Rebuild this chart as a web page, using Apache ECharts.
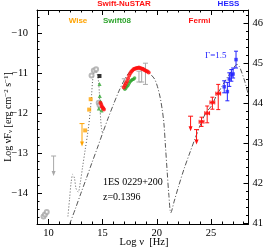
<!DOCTYPE html>
<html><head><meta charset="utf-8">
<script src="https://cdn.jsdelivr.net/npm/echarts@6/dist/echarts.min.js"></script>
<style>html,body{margin:0;padding:0;background:#fff}#c{width:266px;height:249px}</style>
</head><body><div id="c"></div>
<script>
// ---- tick values ----
const xMajor = [10, 15, 20, 25];
const yMajor = [-14, -13, -12, -11, -10];
const lumMajor = [41, 42, 43, 44, 45, 46];
const LUM_OFFSET = 55.74;

// ---- data ----
const radioX = [9.55, 9.68, 9.85];
const radioY = [-14.58, -14.53, -14.47];
const radioULX = [10.48], radioULTop = [-13.07], radioULTip = [-13.57];

const wiseX = [13.9, 13.76, 13.39];
const wiseY = [-11.65, -11.91, -12.43];
const wiseULX = [13.1], wiseULTop = [-12.26], wiseULTip = [-12.83];

const optGreyX = [13.98, 14.19, 14.4, 14.64, 14.72];
const optGreyY = [-11.06, -10.93, -10.9, -11.74, -11.8];
const blackX = [14.71], blackY = [-11.07];

const greenTriX = [14.72, 14.74, 14.65, 14.8, 14.9];
const greenTriY = [-11.27, -11.57, -11.88, -11.7, -11.93];

const redUvotX = [14.8, 14.87, 14.93, 15.0, 15.07, 15.12];
const redUvotY = [-11.74, -11.78, -11.83, -11.86, -11.88, -11.91];

const xrtRedX = [16.95,17.05,17.15,17.25,17.35,17.45,17.55,17.65,17.75,17.85,17.95,18.05,18.15,18.25,18.35,18.45,18.55,18.65,18.75,18.85,18.95,19.05,19.15,19.25];
const xrtRedY = [-11.36,-11.3,-11.25,-11.2,-11.13,-11.06,-11.0,-10.96,-10.93,-10.9,-10.89,-10.88,-10.87,-10.87,-10.86,-10.87,-10.88,-10.89,-10.9,-10.92,-10.93,-10.95,-10.96,-10.98];

const xrtGreenX = [17.05,17.15,17.25,17.35,17.45,17.55,17.65,17.75,17.85,17.95];
const xrtGreenY = [-11.4,-11.37,-11.33,-11.3,-11.25,-11.21,-11.18,-11.16,-11.15,-11.12];

const greyBarX = [17.0, 18.35, 18.6, 18.95];
const greyBarLo = [-11.34, -11.22, -11.22, -11.28];
const greyBarHi = [-11.14, -10.95, -10.86, -10.75];

const fermiX = [24.12, 24.64, 25.12, 25.66];
const fermiY = [-12.215, -12.0, -11.73, -11.51];
const fermiLo = [-12.33, -12.24, -11.9, -11.91];
const fermiHi = [-12.1, -11.82, -11.6, -11.28];
const fermiXLo = [23.9, 24.42, 24.9, 25.44];
const fermiXHi = [24.34, 24.86, 25.34, 25.88];
const fermiULX = [23.11, 23.66], fermiULTop = [-12.075, -12.41], fermiULTip = [-12.45, -12.78];

const hessX = [26.21, 26.5, 26.68, 26.87, 27.03, 27.3];
const hessY = [-11.34, -11.46, -11.145, -11.045, -11.02, -10.66];
const hessLo = [-11.49, -11.69, -11.33, -11.2, -11.12, -10.87];
const hessHi = [-11.19, -11.23, -10.99, -10.91, -10.87, -10.45];

const sscX = [11.95,12.5,13.0,13.5,14.0,14.5,15.0,15.5,16.0,16.5,17.0,17.4,17.8,18.1,18.35,18.6,18.9,19.2,19.5,19.8,20.05,20.3,20.5,20.65,20.8,20.95,21.1,21.29,21.6,22.0,22.5,23.0,23.5,24.0,24.5,25.0,25.5,26.0,26.5,26.9,27.2,27.4,27.6,27.85,28.1,28.45];
const sscY = [-14.78,-14.38,-14.0,-13.63,-13.25,-12.88,-12.5,-12.13,-11.78,-11.45,-11.17,-11.0,-10.9,-10.86,-10.85,-10.86,-10.9,-10.97,-11.05,-11.15,-11.33,-11.6,-11.92,-12.25,-12.85,-13.45,-14.02,-14.49,-14.2,-13.83,-13.4,-13.02,-12.65,-12.3,-12.0,-11.83,-11.56,-11.33,-11.1,-10.95,-10.82,-10.78,-10.83,-11.0,-11.2,-11.55];

const totX = [11.8,11.95,12.1,12.25,12.4,12.55,12.75,12.95,13.15,13.4,13.65,13.85,13.98,14.08,14.2,14.35,14.5,14.62,14.7,14.76,14.82,14.9,15.0];
const totY = [-14.58,-14.15,-13.72,-13.53,-13.62,-13.88,-13.97,-13.72,-13.35,-12.9,-12.45,-11.98,-11.55,-11.18,-10.98,-10.93,-11.02,-11.2,-11.5,-11.85,-12.15,-12.38,-12.5];

// ---- helpers ----
const zip = (a, b) => a.map((v, i) => [v, b[i]]);
const C = {red:'#ff1010', green:'#2fa52f', orange:'#ffa300', blue:'#2222ff', grey:'#a8a8a8', line:'#444'};
const X_MIN = 8.95, X_MAX = 28.45, Y_MIN = -14.77, Y_MAX = -9.42;

function range(a, b, step, skip) { const r = []; for (let v = a; v <= b + 1e-9; v += step) { const q = Math.round(v * 100) / 100; if (!skip.some(s => Math.abs(s - q) < 1e-6)) r.push(q); } return r; }
const xMinor = range(11, 28, 1, xMajor);
const yMinor = range(-14.6, -9.6, 0.2, yMajor);
const lumMinor = range(41.2, 46.2, 0.2, lumMajor);

function errRender(color, cap) {
  return function (params, api) {
    const x = api.value(0), y = api.value(1), lo = api.value(2), hi = api.value(3), xl = api.value(4), xh = api.value(5);
    const a = api.coord([x, lo]), b = api.coord([x, hi]);
    const st = {stroke: color, lineWidth: 1};
    const ch = [
      {type:'line', shape:{x1:a[0], y1:a[1], x2:b[0], y2:b[1]}, style:st},
      {type:'line', shape:{x1:a[0]-cap, y1:a[1], x2:a[0]+cap, y2:a[1]}, style:st},
      {type:'line', shape:{x1:b[0]-cap, y1:b[1], x2:b[0]+cap, y2:b[1]}, style:st}
    ];
    if (!isNaN(xl) && xl !== x) {
      const l = api.coord([xl, y]), r = api.coord([xh, y]);
      ch.push({type:'line', shape:{x1:l[0], y1:l[1], x2:r[0], y2:r[1]}, style:st});
      ch.push({type:'line', shape:{x1:l[0], y1:l[1]-cap, x2:l[0], y2:l[1]+cap}, style:st});
      ch.push({type:'line', shape:{x1:r[0], y1:r[1]-cap, x2:r[0], y2:r[1]+cap}, style:st});
    }
    return {type:'group', children: ch};
  };
}
function ulRender(color) {
  return function (params, api) {
    const x = api.value(0), top = api.coord([x, api.value(1)]), tip = api.coord([x, api.value(2)]);
    const st = {stroke: color, lineWidth: 1};
    return {type:'group', children: [
      {type:'line', shape:{x1:top[0]-2.5, y1:top[1], x2:top[0]+2.5, y2:top[1]}, style:st},
      {type:'line', shape:{x1:top[0], y1:top[1], x2:tip[0], y2:tip[1]-3}, style:st},
      {type:'polygon', shape:{points:[[tip[0]-2, tip[1]-5], [tip[0]+2, tip[1]-5], [tip[0], tip[1]]]}, style:{fill: color}}
    ]};
  };
}
const errSeries = (rows, color, cap) => ({type:'custom', xAxisIndex:0, yAxisIndex:0, renderItem: errRender(color, cap), data: rows, encode:{x:0, y:[1,2,3]}, z:3, silent:true});
const ulSeries = (xs, tops, tips, color) => ({type:'custom', xAxisIndex:0, yAxisIndex:0, renderItem: ulRender(color), data: xs.map((v,i)=>[v, tops[i], tips[i]]), encode:{x:0, y:[1,2]}, z:3, silent:true});
const scat = (xs, ys, symbol, size, color, extra) => Object.assign({type:'scatter', xAxisIndex:0, yAxisIndex:0, data: zip(xs, ys), symbol, symbolSize:size, itemStyle:{color}, z:4, silent:true}, extra||{});

const minus = v => (v < 0 ? '\u2212' + Math.abs(v) : '' + v);
const serif = '"Liberation Serif", "DejaVu Serif", serif';
const sans = '"Liberation Sans", Arial, sans-serif';
const labelFont = {fontFamily: serif, fontSize: 10.5, color: '#000'};

const xAxisBase = {type:'value', min:X_MIN, max:X_MAX, splitLine:{show:false}, gridIndex:0};
const yAxisBase = {type:'value', splitLine:{show:false}, gridIndex:0};

const option = {
  animation: false,
  backgroundColor: '#fff',
  grid: {left:37, right:16, top:10, bottom:25, containLabel:false},
  xAxis: [
    Object.assign({}, xAxisBase, {position:'bottom', axisLine:{show:true, lineStyle:{color:'#000', width:1}},
      axisTick:{show:true, inside:true, length:5, customValues:xMajor, lineStyle:{color:'#000'}},
      axisLabel:{show:true, customValues:xMajor, margin:4, ...labelFont}}),
    Object.assign({}, xAxisBase, {position:'bottom', axisLine:{show:false},
      axisTick:{show:true, inside:true, length:2.5, customValues:xMinor, lineStyle:{color:'#000'}}, axisLabel:{show:false}}),
    Object.assign({}, xAxisBase, {position:'top', axisLine:{show:true, lineStyle:{color:'#000', width:1}},
      axisTick:{show:true, inside:true, length:5, customValues:xMajor, lineStyle:{color:'#000'}}, axisLabel:{show:false}}),
    Object.assign({}, xAxisBase, {position:'top', axisLine:{show:false},
      axisTick:{show:true, inside:true, length:2.5, customValues:xMinor, lineStyle:{color:'#000'}}, axisLabel:{show:false}})
  ],
  yAxis: [
    Object.assign({}, yAxisBase, {min:Y_MIN, max:Y_MAX, position:'left', axisLine:{show:true, lineStyle:{color:'#000', width:1}},
      axisTick:{show:true, inside:true, length:5, customValues:yMajor, lineStyle:{color:'#000'}},
      axisLabel:{show:true, customValues:yMajor, margin:9, formatter:minus, ...labelFont}}),
    Object.assign({}, yAxisBase, {min:Y_MIN, max:Y_MAX, position:'left', axisLine:{show:false},
      axisTick:{show:true, inside:true, length:2.5, customValues:yMinor, lineStyle:{color:'#000'}}, axisLabel:{show:false}}),
    Object.assign({}, yAxisBase, {min:Y_MIN+LUM_OFFSET, max:Y_MAX+LUM_OFFSET, position:'right', axisLine:{show:true, lineStyle:{color:'#000', width:1}},
      axisTick:{show:true, inside:true, length:5, customValues:lumMajor, lineStyle:{color:'#000'}},
      axisLabel:{show:true, customValues:lumMajor, margin:4, ...labelFont}}),
    Object.assign({}, yAxisBase, {min:Y_MIN+LUM_OFFSET, max:Y_MAX+LUM_OFFSET, position:'right', axisLine:{show:false},
      axisTick:{show:true, inside:true, length:2.5, customValues:lumMinor, lineStyle:{color:'#000'}}, axisLabel:{show:false}})
  ],
  series: [
    {type:'line', xAxisIndex:0, yAxisIndex:0, data: zip(totX, totY), showSymbol:false, smooth:0.3, lineStyle:{color:C.line, width:0.9, type:[1,2]}, z:2, silent:true},
    {type:'line', xAxisIndex:0, yAxisIndex:0, data: zip(sscX, sscY), showSymbol:false, smooth:0.3, lineStyle:{color:C.line, width:0.9, type:[5,2,1,2]}, z:2, silent:true},
    scat(radioX, radioY, 'emptyCircle', 4, C.grey),
    ulSeries(radioULX, radioULTop, radioULTip, C.grey),
    scat(wiseX, wiseY, 'rect', 4, C.orange),
    ulSeries(wiseULX, wiseULTop, wiseULTip, C.orange),
    scat(optGreyX, optGreyY, 'emptyCircle', 4, C.grey),
    scat(blackX, blackY, 'rect', 4, '#000'),
    scat(greenTriX, greenTriY, 'triangle', 4, C.green),
    scat(redUvotX, redUvotY, 'circle', 4, C.red),
    errSeries(greyBarX.map((v,i)=>[v, (greyBarLo[i]+greyBarHi[i])/2, greyBarLo[i], greyBarHi[i]]), C.grey, 2.5),
    scat(xrtGreenX, xrtGreenY, 'circle', 3.5, C.green),
    scat(xrtRedX, xrtRedY, 'circle', 4, C.red),
    errSeries(fermiX.map((v,i)=>[v, fermiY[i], fermiLo[i], fermiHi[i], fermiXLo[i], fermiXHi[i]]), C.red, 2),
    scat(fermiX, fermiY, 'circle', 4, C.red),
    ulSeries(fermiULX, fermiULTop, fermiULTip, C.red),
    errSeries(hessX.map((v,i)=>[v, hessY[i], hessLo[i], hessHi[i]]), C.blue, 2),
    scat(hessX, hessY, 'rect', 3.5, C.blue)
  ],
  graphic: [
    {type:'text', x:124, y:3.5, style:{text:'Swift-NuSTAR', fill:C.red, font:'bold 8px ' + sans, textAlign:'center', textVerticalAlign:'middle'}},
    {type:'text', x:228.5, y:3.5, style:{text:'HESS', fill:C.blue, font:'bold 8px ' + sans, textAlign:'center', textVerticalAlign:'middle'}},
    {type:'text', x:78, y:20.5, style:{text:'Wise', fill:C.orange, font:'bold 8px ' + sans, textAlign:'center', textVerticalAlign:'middle'}},
    {type:'text', x:117, y:20.5, style:{text:'Swift08', fill:C.green, font:'bold 8px ' + sans, textAlign:'center', textVerticalAlign:'middle'}},
    {type:'text', x:199.5, y:20.5, style:{text:'Fermi', fill:C.red, font:'bold 8px ' + sans, textAlign:'center', textVerticalAlign:'middle'}},
    {type:'text', x:205, y:56, style:{text:'\u0393=1.5', fill:C.blue, font:'9px ' + serif, textAlign:'left', textVerticalAlign:'middle'}},
    {type:'text', x:103, y:182, style:{text:'1ES 0229+200', fill:'#000', font:'10px ' + serif, textAlign:'left', textVerticalAlign:'middle'}},
    {type:'text', x:103, y:197, style:{text:'z=0.1396', fill:'#000', font:'10px ' + serif, textAlign:'left', textVerticalAlign:'middle'}},
    {type:'text', x:144, y:242, style:{text:'Log \u03bd  [Hz]', fill:'#000', font:'10.5px ' + serif, textAlign:'center', textVerticalAlign:'middle'}},
    {type:'text', x:8, y:117, rotation:Math.PI/2, style:{text:'Log \u03bdF{s|\u03bd} [erg cm{p|\u22122} s{p|\u22121}]', fill:'#000', font:'10px ' + serif, textAlign:'center', textVerticalAlign:'middle',
      rich:{s:{fontFamily:serif, fontSize:7, verticalAlign:'bottom', padding:[4,0,0,0]}, p:{fontFamily:serif, fontSize:7, verticalAlign:'top', padding:[0,0,4,0]}}}}
  ]
};
const chart = echarts.init(document.getElementById('c'), null, {renderer:'canvas'});
chart.setOption(option);
</script></body></html>
